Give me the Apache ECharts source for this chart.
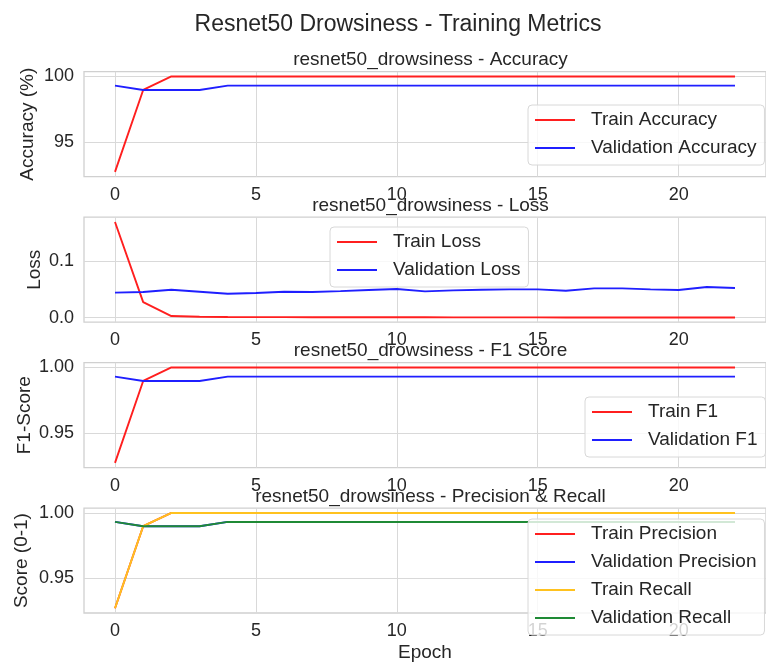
<!DOCTYPE html>
<html>
<head>
<meta charset="utf-8">
<script src="https://cdn.jsdelivr.net/npm/echarts@6/dist/echarts.min.js"></script>
<style>
  html, body { margin: 0; padding: 0; background: #ffffff; }
  #chart { width: 766px; height: 663px; }
</style>
</head>
<body>
<div id="chart"></div>
<script>
// Epoch index on the x axis
const epochs = [0, 1, 2, 3, 4, 5, 6, 7, 8, 9, 10, 11, 12, 13, 14, 15, 16, 17, 18, 19, 20, 21, 22];
const xTicks = [0, 5, 10, 15, 20];

// Accuracy (%)
const trainAcc = [92.77, 98.98, 100, 100, 100, 100, 100, 100, 100, 100, 100, 100, 100, 100, 100, 100, 100, 100, 100, 100, 100, 100, 100];
const valAcc = [99.31, 98.98, 98.98, 98.98, 99.31, 99.31, 99.31, 99.31, 99.31, 99.31, 99.31, 99.31, 99.31, 99.31, 99.31, 99.31, 99.31, 99.31, 99.31, 99.31, 99.31, 99.31, 99.31];
const accTicks = [95, 100];

// Loss
const trainLoss = [0.169, 0.0276, 0.0029, 0.0018, 0.0013, 0.0011, 0.0010, 0.0009, 0.0008, 0.0008, 0.0007, 0.0007, 0.0006, 0.0006, 0.0006, 0.0006, 0.0005, 0.0005, 0.0005, 0.0005, 0.0005, 0.0005, 0.0005];
const valLoss = [0.0442, 0.0453, 0.0494, 0.0459, 0.0424, 0.0436, 0.0459, 0.0453, 0.0470, 0.0488, 0.0506, 0.0465, 0.0482, 0.0494, 0.0500, 0.0500, 0.0476, 0.0518, 0.0518, 0.0500, 0.0488, 0.0541, 0.0524];
const lossTicks = [0.0, 0.1];

// F1 score
const trainF1 = [0.9277, 0.9898, 1, 1, 1, 1, 1, 1, 1, 1, 1, 1, 1, 1, 1, 1, 1, 1, 1, 1, 1, 1, 1];
const valF1 = [0.9931, 0.9898, 0.9898, 0.9898, 0.9931, 0.9931, 0.9931, 0.9931, 0.9931, 0.9931, 0.9931, 0.9931, 0.9931, 0.9931, 0.9931, 0.9931, 0.9931, 0.9931, 0.9931, 0.9931, 0.9931, 0.9931, 0.9931];
const f1Ticks = [0.95, 1.00];

// Precision & recall
const trainPrecision = [0.9267, 0.9898, 1, 1, 1, 1, 1, 1, 1, 1, 1, 1, 1, 1, 1, 1, 1, 1, 1, 1, 1, 1, 1];
const valPrecision = [0.9931, 0.9898, 0.9898, 0.9898, 0.9931, 0.9931, 0.9931, 0.9931, 0.9931, 0.9931, 0.9931, 0.9931, 0.9931, 0.9931, 0.9931, 0.9931, 0.9931, 0.9931, 0.9931, 0.9931, 0.9931, 0.9931, 0.9931];
const trainRecall = [0.9267, 0.9898, 1, 1, 1, 1, 1, 1, 1, 1, 1, 1, 1, 1, 1, 1, 1, 1, 1, 1, 1, 1, 1];
const valRecall = [0.9931, 0.9898, 0.9898, 0.9898, 0.9931, 0.9931, 0.9931, 0.9931, 0.9931, 0.9931, 0.9931, 0.9931, 0.9931, 0.9931, 0.9931, 0.9931, 0.9931, 0.9931, 0.9931, 0.9931, 0.9931, 0.9931, 0.9931];
const scoreTicks = [0.95, 1.00];

const FONT = '"Liberation Sans", Arial, Helvetica, sans-serif';
const TEXT = '#262626';
const GRIDLINE = '#d9d9d9';
const RED = '#ff1f1f', BLUE = '#1f1fff', GOLD = '#ffc21f', GREEN = '#1f8a35';

const pair = (ys) => epochs.map((e, i) => [e, ys[i]]);

// Padded data range, like matplotlib's default 5% margins
function padded(arrays) {
  const all = [].concat(...arrays);
  const lo = Math.min(...all), hi = Math.max(...all);
  const m = (hi - lo) * 0.05;
  return [lo - m, hi + m];
}

const panels = [
  {
    title: 'resnet50_drowsiness - Accuracy', yName: 'Accuracy (%)', nameGap: 47,
    ticks: accTicks, fmt: (v) => String(Math.round(v)),
    lines: [['Train Accuracy', trainAcc, RED], ['Validation Accuracy', valAcc, BLUE]],
    legend: { left: 528, top: 105 }
  },
  {
    title: 'resnet50_drowsiness - Loss', yName: 'Loss', nameGap: 40,
    ticks: lossTicks, fmt: (v) => v.toFixed(1),
    lines: [['Train Loss', trainLoss, RED], ['Validation Loss', valLoss, BLUE]],
    legend: { left: 330, top: 227 }
  },
  {
    title: 'resnet50_drowsiness - F1 Score', yName: 'F1-Score', nameGap: 50,
    ticks: f1Ticks, fmt: (v) => v.toFixed(2),
    lines: [['Train F1', trainF1, RED], ['Validation F1', valF1, BLUE]],
    legend: { left: 585, top: 397 }
  },
  {
    title: 'resnet50_drowsiness - Precision & Recall', yName: 'Score (0-1)', nameGap: 53,
    ticks: scoreTicks, fmt: (v) => v.toFixed(2),
    lines: [['Train Precision', trainPrecision, RED], ['Validation Precision', valPrecision, BLUE],
            ['Train Recall', trainRecall, GOLD], ['Validation Recall', valRecall, GREEN]],
    legend: { left: 528, top: 519 }
  }
];

const PLOT_LEFT = 84, PLOT_W = 693, PLOT_H = 105, TOP0 = 71.7, STEP = 145.5;

const option = {
  animation: false,
  backgroundColor: '#ffffff',
  textStyle: { fontFamily: FONT },
  title: [{
    text: 'Resnet50 Drowsiness - Training Metrics',
    left: 398, top: 13, textAlign: 'center', padding: 0,
    textStyle: { fontFamily: FONT, fontSize: 23, fontWeight: 'normal', color: TEXT }
  }],
  grid: [], xAxis: [], yAxis: [], series: [], legend: []
};

panels.forEach((p, i) => {
  const top = TOP0 + STEP * i;
  const [yMin, yMax] = padded(p.lines.map((l) => l[1]));
  option.title.push({
    text: p.title, left: PLOT_LEFT + PLOT_W / 2, top: top - 21, textAlign: 'center', padding: 0,
    textStyle: { fontFamily: FONT, fontSize: 19, fontWeight: 'normal', color: TEXT }
  });
  option.grid.push({
    left: PLOT_LEFT, top: top, width: PLOT_W, height: PLOT_H,
    show: true, borderColor: '#d0d0d0', borderWidth: 1.3, backgroundColor: 'transparent'
  });
  const last = i === panels.length - 1;
  option.xAxis.push({
    type: 'value', gridIndex: i, min: -1.1, max: 23.1,
    name: last ? 'Epoch' : '', nameLocation: 'middle', nameGap: 30, nameMoveOverlap: false,
    nameTextStyle: { fontFamily: FONT, fontSize: 19, color: TEXT },
    axisLine: { show: false },
    axisTick: { show: false, customValues: xTicks },
    axisLabel: { customValues: xTicks, fontFamily: FONT, fontSize: 18, color: TEXT, margin: 9 },
    splitLine: { show: true, lineStyle: { color: GRIDLINE, width: 1 } }
  });
  option.yAxis.push({
    type: 'value', gridIndex: i, min: yMin, max: yMax,
    name: p.yName, nameLocation: 'middle', nameGap: p.nameGap, nameRotate: 90, nameMoveOverlap: false,
    nameTextStyle: { fontFamily: FONT, fontSize: 19, color: TEXT },
    axisLine: { show: false },
    axisTick: { show: false, customValues: p.ticks },
    axisLabel: { customValues: p.ticks, formatter: p.fmt, fontFamily: FONT, fontSize: 18, color: TEXT, margin: 10 },
    splitLine: { show: true, lineStyle: { color: GRIDLINE, width: 1 } }
  });
  p.lines.forEach(([name, ys, color]) => {
    option.series.push({
      type: 'line', name: name, xAxisIndex: i, yAxisIndex: i,
      data: pair(ys), showSymbol: false, symbol: 'none',
      lineStyle: { color: color, width: 1.9 }, itemStyle: { color: color },
      z: 3
    });
  });
  option.legend.push({
    orient: 'vertical', left: p.legend.left, top: p.legend.top,
    data: p.lines.map((l) => l[0]),
    icon: 'rect', itemWidth: 40, itemHeight: 2, itemGap: 8,
    selectedMode: false,
    padding: [5, 8, 7, 7],
    backgroundColor: 'rgba(255,255,255,0.8)', borderColor: '#d8d8d8', borderWidth: 1, borderRadius: 4,
    textStyle: { fontFamily: FONT, fontSize: 19, color: TEXT, lineHeight: 20, padding: [0, 0, 0, 11] },
    z: 10
  });
});

const chart = echarts.init(document.getElementById('chart'), null, { renderer: 'canvas' });
chart.setOption(option);
</script>
</body>
</html>
